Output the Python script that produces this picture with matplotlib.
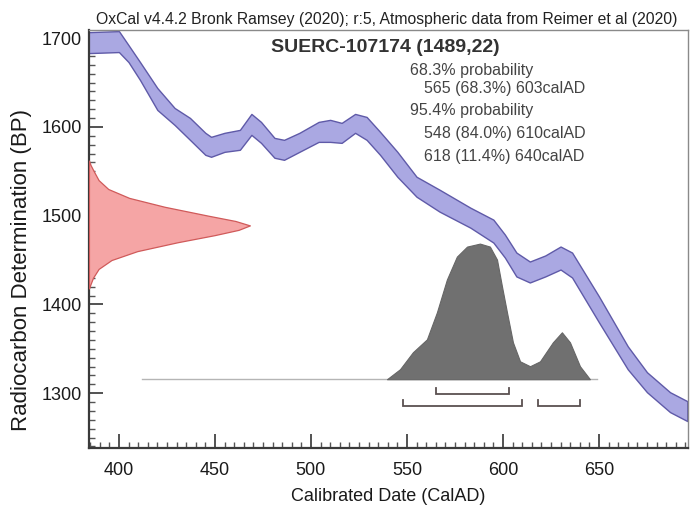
import numpy as np
import matplotlib
matplotlib.use("Agg")
from matplotlib import pyplot as plt
from matplotlib.ticker import MultipleLocator

plt.rcParams['font.family'] = ['Liberation Sans', 'DejaVu Sans']

# calibration curve band (IntCal20)
curve_year = [384, 400, 405, 411, 420, 429, 437, 445, 448, 455, 463, 469, 474, 481,
              486, 494, 504, 510, 516, 523, 529, 536, 545, 555, 567, 583, 595, 601,
              607, 614, 622, 630, 636, 650, 665, 675, 687, 696]
curve_top = [1706.7, 1707.9, 1692.1, 1673.0, 1643.8, 1621.3, 1610.1, 1593.3, 1588.8,
             1593.3, 1596.6, 1614.6, 1605.6, 1587.6, 1585.4, 1593.3, 1605.6, 1607.9,
             1604.5, 1614.6, 1611.2, 1594.4, 1571.9, 1543.8, 1529.2, 1509.0, 1495.5,
             1478.7, 1458.4, 1448.3, 1455.1, 1465.2, 1458.4, 1409.0, 1352.8, 1323.6,
             1301.1, 1291.0]
curve_bot = [1683.1, 1684.3, 1673.0, 1652.8, 1619.1, 1602.2, 1585.4, 1568.5, 1566.3,
             1571.9, 1574.2, 1591.0, 1582.0, 1565.2, 1562.9, 1571.9, 1583.1, 1583.1,
             1582.0, 1593.3, 1585.4, 1568.5, 1543.8, 1521.3, 1504.5, 1486.5, 1469.7,
             1452.8, 1431.5, 1424.7, 1431.5, 1439.3, 1430.3, 1379.8, 1326.9, 1301.1,
             1278.7, 1268.6]

# radiocarbon measurement 1489 +/- 22 BP (relative height)
meas_bp = [1562, 1557, 1550, 1540, 1530, 1520, 1510, 1500, 1494, 1489, 1484, 1478,
           1470, 1460, 1450, 1440, 1430, 1422, 1418]
meas_p = [0.0, 0.01, 0.03, 0.06, 0.12, 0.25, 0.47, 0.74, 0.91, 1.0, 0.93, 0.78,
          0.55, 0.30, 0.14, 0.06, 0.025, 0.008, 0.0]

# calibrated posterior (relative probability)
post_year = [539.6, 546.4, 553.1, 560.4, 565.6, 570.8, 576.0, 581.3, 588.0, 593.2,
             596.9, 599.5, 602.1, 605.2, 608.9, 614.1, 619.3, 626.0, 630.7, 634.9,
             640.1, 645.3]
post_p = [0.0, 0.074, 0.199, 0.294, 0.493, 0.735, 0.904, 0.978, 1.0, 0.978, 0.882,
          0.684, 0.493, 0.272, 0.132, 0.096, 0.132, 0.272, 0.346, 0.272, 0.096, 0.0]
post_range = (412, 649)

range68 = [(565, 603)]
range95 = [(548, 610), (618, 640)]

title = "OxCal v4.4.2 Bronk Ramsey (2020); r:5, Atmospheric data from Reimer et al (2020)"
sample = "SUERC-107174 (1489,22)"
prob_lines = ["68.3% probability", "565 (68.3%) 603calAD", "95.4% probability",
              "548 (84.0%) 610calAD", "618 (11.4%) 640calAD"]

xlim = (384.4, 696.4)
ylim = (1238.2, 1709.0)

fig = plt.figure(figsize=(6.95, 5.09), dpi=100)
ax = fig.add_axes([0.128, 0.1198, 0.862, 0.821])

ax.fill_between(curve_year, curve_bot, curve_top, facecolor='#aaa8e2',
                edgecolor='#5f5aa8', linewidth=1.0, zorder=2)

meas_w = 83.8
ax.fill_betweenx(meas_bp, xlim[0], xlim[0] + meas_w * np.array(meas_p),
                 facecolor='#f5a5a5', edgecolor='#d05a5a', linewidth=0.9, zorder=3)

base = 1315.7
post_h = 152.8
ax.plot(post_range, [base, base], color='#b5b5b5', linewidth=1.0, zorder=3)
ax.fill_between(post_year, base, base + post_h * np.array(post_p),
                facecolor='#707070', edgecolor='#666666', linewidth=0.8, zorder=4)

def bracket(x0, x1, y, h=6.5):
    ax.plot([x0, x0, x1, x1], [y + h, y, y, y + h], color='#5a5050', linewidth=1.3,
            zorder=4, solid_joinstyle='miter')

for r in range68:
    bracket(r[0], r[1], 1299.2)
for r in range95:
    bracket(r[0], r[1], 1285.4)

ax.set_xlim(xlim)
ax.set_ylim(ylim)
ax.xaxis.set_major_locator(MultipleLocator(50))
ax.xaxis.set_minor_locator(MultipleLocator(5))
ax.yaxis.set_major_locator(MultipleLocator(100))
ax.yaxis.set_minor_locator(MultipleLocator(10))
ax.tick_params(which='major', direction='in', length=10, width=1.3, color='#444444',
               labelsize=13, labelcolor='#1a1a1a')
ax.tick_params(which='minor', direction='in', length=4, width=1.0, color='#555555')
ax.tick_params(axis='y', which='major', pad=5)
ax.tick_params(axis='x', which='major', pad=10)

for s in ['left', 'bottom']:
    ax.spines[s].set_color('#3a3a3a')
    ax.spines[s].set_linewidth(1.6)
for s in ['top', 'right']:
    ax.spines[s].set_color('#8a8a8a')
    ax.spines[s].set_linewidth(1.0)

ax.text(0.494, 0.959, sample, transform=ax.transAxes, ha='center', va='center',
        fontsize=14, fontweight='bold', color='#333333')
y_pos = [0.904, 0.861, 0.808, 0.753, 0.698]
x_pos = [0.536, 0.559, 0.536, 0.559, 0.559]
for t, xx, yy in zip(prob_lines, x_pos, y_pos):
    ax.text(xx, yy, t, transform=ax.transAxes, ha='left', va='center',
            fontsize=11.5, color='#444444')

fig.text(0.556, 0.962, title, ha='center', va='center', fontsize=11.3, color='#222222')
fig.text(0.558, 0.024, "Calibrated Date (CalAD)", ha='center', va='center',
         fontsize=13, color='#1a1a1a')
fig.text(0.031, 0.47, "Radiocarbon Determination (BP)", ha='center', va='center',
         rotation=90, fontsize=16, color='#1a1a1a')

plt.savefig("out.png", dpi=100)
